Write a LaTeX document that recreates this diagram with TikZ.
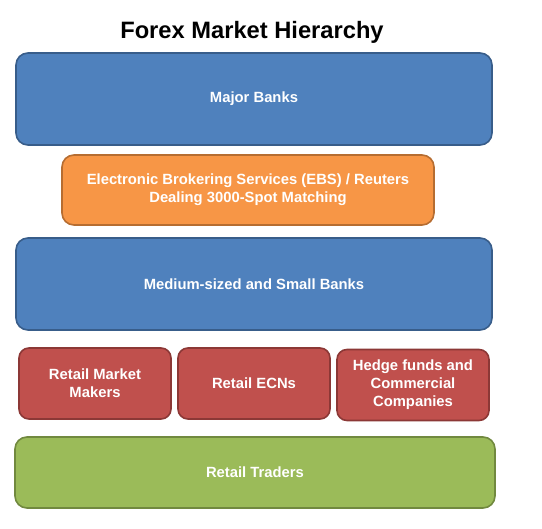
\documentclass[tikz,border=0pt]{standalone}
\usepackage{fontspec}
\setmainfont{Liberation Sans}
\definecolor{bankblue}{HTML}{4F81BD}
\definecolor{bankblueline}{HTML}{385D8A}
\definecolor{ebsorange}{HTML}{F79646}
\definecolor{ebsorangeline}{HTML}{B66D31}
\definecolor{retailred}{HTML}{C0504D}
\definecolor{retailredline}{HTML}{8C3836}
\definecolor{tradergreen}{HTML}{9BBB59}
\definecolor{tradergreenline}{HTML}{71893F}
\tikzset{
  tier/.style={
    draw,
    line width=1.6pt,
    rounded corners=12pt,
    align=center,
    inner sep=0pt,
    text=white,
    font=\fontsize{14.8}{18}\selectfont\bfseries
  },
  bank tier/.style={
    tier,
    fill=bankblue,
    draw=bankblueline,
    minimum width=476pt,
    minimum height=92pt
  },
  ebs tier/.style={
    tier,
    fill=ebsorange,
    draw=ebsorangeline,
    minimum width=372pt,
    minimum height=70pt
  },
  retail tier/.style={
    tier,
    rounded corners=10pt,
    fill=retailred,
    draw=retailredline,
    minimum width=152pt,
    minimum height=71pt
  },
  trader tier/.style={
    tier,
    fill=tradergreen,
    draw=tradergreenline,
    minimum width=480pt,
    minimum height=71pt
  }
}

\begin{document}
\begin{tikzpicture}[x=1pt, y=-1pt]

  % page frame, in pixels of the reference
  \useasboundingbox (0,0) rectangle (542,529);

  %% ---- title ----
  \node[anchor=base, font=\fontsize{23.7}{28}\selectfont\bfseries]
      (title) at (252, 39) {Forex Market Hierarchy};

  %% ---- interbank level ----
  \node[bank tier] (major) at (254, 99)  {Major Banks};
  \node[ebs tier]  (ebs)   at (248, 190)
      {Electronic Brokering Services (EBS) / Reuters\\Dealing 3000-Spot Matching};
  \node[bank tier] (medium) at (254, 284) {Medium-sized and Small Banks};

  %% ---- retail level ----
  \node[retail tier] (makers) at (95, 383.5)  {Retail Market\\Makers};
  \node[retail tier] (ecns)   at (254, 383.5) {Retail ECNs};
  \node[retail tier] (hedge)  at (413, 385)   {Hedge funds and\\Commercial\\Companies};

  %% ---- traders ----
  \node[trader tier] (traders) at (255, 472.5) {Retail Traders};

\end{tikzpicture}
\end{document}
